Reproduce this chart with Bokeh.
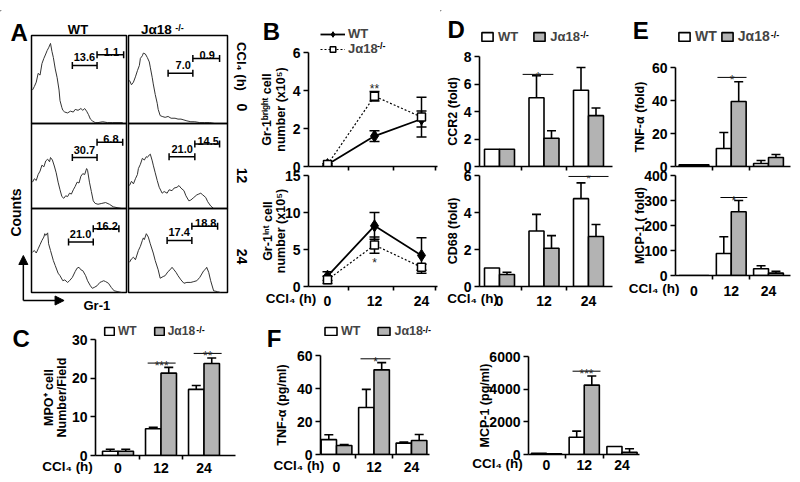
import math
from bokeh.plotting import figure
from bokeh.models import (Range1d, FixedTicker, Whisker, TeeHead, Legend, LegendItem,
                          Arrow, NormalHead, ColumnDataSource)
from bokeh.layouts import column
from bokeh.embed import file_html
from bokeh.resources import INLINE
from bokeh.core.properties import value

FONT = "Liberation Sans"
GREY = "#b3b3b3"

# ------------------------------------------------------------------ data
hours = ["0", "12", "24"]
hour_vals = [0, 12, 24]
groups = [0, 1, 2]

# Panel A : Gr-1 histograms (channel 0-100, % of panel height)
a_wt0_x = [1, 3, 5, 7, 9, 11, 13, 15, 16.5, 18, 20, 21.5, 23, 25, 27, 29, 30, 32, 33, 35, 38, 41, 44, 46, 49, 52, 54, 56, 58, 60, 62, 64, 67, 70, 75, 80, 85, 90, 96]
a_wt0_y = [38, 42, 47, 57, 55, 68, 74, 79, 83, 86, 91, 82, 75, 62, 52, 38, 26, 18, 15, 13, 12, 14, 13, 16, 15, 17, 15, 17, 14, 10, 5, 3, 1, 1, 2, 1, 1, 1, 1]
a_ko0_x = [1, 3, 5, 7, 9, 11, 12, 14, 15, 17, 19, 21, 22, 24, 25, 27, 29, 30, 32, 34, 37, 40, 43, 47, 50, 53, 56, 59, 63, 67, 72, 77, 82, 87, 92]
a_ko0_y = [49, 44, 47, 53, 60, 66, 74, 77, 80, 79, 75, 70, 64, 52, 45, 33, 23, 16, 9, 8, 7, 8, 6, 6, 5, 5, 4, 3, 2, 2, 1, 1, 1, 0, 0]
a_wt12_x = [1, 3, 5, 7, 9, 11, 13, 15, 17, 19, 20, 22, 24, 26, 28, 30, 32, 34, 36, 38, 40, 42, 44, 46, 48, 50, 52, 54, 56, 58, 59, 61, 63, 65, 67, 70, 74, 78, 82, 86, 90, 95]
a_wt12_y = [31, 35, 33, 40, 44, 51, 49, 56, 58, 55, 60, 57, 50, 42, 31, 22, 14, 12, 15, 14, 18, 17, 22, 26, 31, 30, 38, 41, 40, 47, 45, 31, 20, 9, 6, 5, 6, 7, 5, 2, 1, 0]
a_ko12_x = [1, 3, 5, 7, 9, 10, 12, 14, 16, 18, 19, 21, 22, 24, 25, 27, 29, 31, 34, 36, 39, 41, 44, 46, 49, 51, 53, 56, 58, 61, 63, 66, 69, 71, 73, 75, 78, 80, 83, 86]
a_ko12_y = [27, 32, 29, 35, 40, 47, 52, 59, 57, 61, 60, 63, 64, 56, 51, 42, 33, 25, 18, 20, 18, 22, 21, 24, 25, 27, 24, 21, 15, 9, 10, 13, 16, 17, 18, 16, 13, 8, 3, 0]
a_wt24_x = [1, 3, 5, 7, 9, 11, 13, 14, 15, 17, 18, 20, 23, 25, 28, 30, 33, 35, 38, 40, 43, 46, 48, 50, 52, 54, 57, 59, 62, 64, 66, 69, 72, 74, 76, 78, 81, 84, 87, 91, 95]
a_wt24_y = [48, 50, 47, 52, 57, 62, 66, 70, 68, 71, 58, 50, 38, 32, 23, 20, 14, 15, 12, 14, 18, 25, 29, 30, 27, 26, 20, 14, 8, 5, 6, 8, 12, 13, 14, 13, 11, 6, 2, 1, 0]
a_ko24_x = [1, 3, 5, 7, 10, 12, 14, 15, 16, 18, 20, 22, 25, 27, 30, 32, 35, 37, 40, 42, 44, 46, 48, 50, 53, 56, 59, 63, 66, 69, 72, 74, 76, 78, 79, 81, 83, 86, 90, 93]
a_ko24_y = [36, 40, 42, 39, 50, 55, 62, 65, 63, 70, 66, 58, 47, 38, 27, 17, 19, 20, 25, 27, 30, 27, 24, 20, 15, 11, 12, 12, 13, 14, 18, 22, 26, 28, 30, 24, 14, 2, 1, 0]

# gates (order: WT 0h, Ja18 0h, WT 12h, Ja18 12h, WT 24h, Ja18 24h)
gate_l_x0 = [43, 40, 43, 41, 39, 39]
gate_l_x1 = [69, 65, 69, 67, 65, 64]
gate_l_y = [66, 57, 60, 61, 60, 62]
gate_r_x1 = [97, 92, 96, 92, 92, 90]
gate_r_y = [78, 74, 78, 76, 76, 79]
gate_l_pct = ["13.6", "7.0", "30.7", "21.0", "21.0", "17.4"]
gate_r_pct = ["1.1", "0.9", "6.8", "14.5", "16.2", "18.8"]

# Panel B : Gr-1 bright / int cell number (x10^5)
b_bright_wt = [0.1, 1.6, 2.5]
b_bright_wt_err = [0.05, 0.28, 0.42]
b_bright_ko = [0.1, 3.7, 2.6]
b_bright_ko_err = [0.05, 0.25, 1.05]
b_int_wt = [1.4, 8.2, 4.2]
b_int_wt_err = [0.6, 1.8, 2.4]
b_int_ko = [0.9, 5.6, 2.6]
b_int_ko_err = [0.5, 1.1, 0.4]

# Panel C : MPO+ cells / field
c_wt = [1.1, 6.9, 17.1]
c_wt_err = [0.5, 0.4, 1.0]
c_ko = [1.1, 21.3, 23.8]
c_ko_err = [0.5, 1.5, 1.4]
c_sig_x0 = [0.69, 1.76]
c_sig_x1 = [1.34, 2.41]
c_sig_y = [23.9, 26.4]
c_sig_txt = ["***", "**"]

# Panel D : CCR2 / CD68 (fold)
d_ccr2_wt = [1.25, 5.0, 5.55]
d_ccr2_wt_err = [0, 1.6, 1.65]
d_ccr2_ko = [1.25, 2.05, 3.7]
d_ccr2_ko_err = [0, 0.55, 0.55]
d_ccr2_sig = ([0.52], [1.21], [6.7], ["*"])
d_cd68_wt = [1.0, 3.0, 4.75]
d_cd68_wt_err = [0, 0.9, 0.85]
d_cd68_ko = [0.65, 2.07, 2.7]
d_cd68_ko_err = [0.12, 0.68, 0.65]
d_cd68_sig = ([1.55], [2.45], [5.95], ["*"])

# Panel E : TNF-a / MCP-1 (fold)
e_tnf_wt = [1.0, 10.9, 1.8]
e_tnf_wt_err = [0, 9.7, 1.8]
e_tnf_ko = [1.0, 39.4, 5.5]
e_tnf_ko_err = [0, 12.0, 1.8]
e_tnf_sig = ([0.63], [1.41], [54], ["*"])
e_mcp_wt = [0, 88, 27]
e_mcp_wt_err = [0, 67, 12]
e_mcp_ko = [0, 255, 9.5]
e_mcp_ko_err = [0, 45, 7]
e_mcp_sig = ([0.71], [1.43], [312], ["*"])

# Panel F : serum TNF-a / MCP-1 (pg/ml)
f_tnf_wt = [9, 28.5, 6.9]
f_tnf_wt_err = [3, 11, 0.6]
f_tnf_ko = [5.5, 51.3, 8.5]
f_tnf_ko_err = [0.6, 4.4, 3.6]
f_tnf_sig = ([0.64], [1.44], [58], ["*"])
f_mcp_wt = [80, 1060, 490]
f_mcp_wt_err = [0, 370, 0]
f_mcp_ko = [40, 4250, 140]
f_mcp_ko_err = [0, 560, 210]
f_mcp_sig = ([0.69], [1.43], [5100], ["***"])

# ------------------------------------------------------------------ helpers
figs = []


def make_fig(fx0, fy0, fx1, fy1, xr, yr, pad=(80, 45, 8, 30), axes=True):
    l, t, r, b = pad
    fx0, fy0, fx1, fy1 = round(fx0), round(fy0), round(fx1), round(fy1)
    kw = {}
    if not axes:
        kw = dict(x_axis_location=None, y_axis_location=None)
    p = figure(width=fx1 - fx0 + l + r, height=fy1 - fy0 + t + b,
               x_range=Range1d(*xr), y_range=Range1d(*yr),
               min_border_left=l, min_border_top=t, min_border_right=r, min_border_bottom=b,
               output_backend="svg", toolbar_location=None, title=None, **kw)
    p.background_fill_color = None
    p.border_fill_color = None
    p.outline_line_color = None
    p.xgrid.visible = False
    p.ygrid.visible = False
    p.styles = {"position": "absolute", "left": f"{fx0 - l}px", "top": f"{fy0 - t}px"}
    figs.append(p)
    return p


def style(p, yticks, ylabel=None, ylab_standoff=2, xticks=(0, 1, 2), xminor=(0.5, 1.5),
          xlabels=True, xlab_standoff=4):
    xa, ya = p.xaxis[0], p.yaxis[0]
    for ax in (xa, ya):
        ax.axis_line_color = "black"
        ax.axis_line_width = 1.6
        ax.major_tick_line_color = "black"
        ax.major_tick_line_width = 1.6
        ax.minor_tick_line_color = "black"
        ax.minor_tick_line_width = 1.6
        ax.major_tick_in = 0
        ax.minor_tick_in = 0
        ax.major_label_text_font = FONT
        ax.major_label_text_font_style = "bold"
        ax.major_label_text_font_size = "14px"
        ax.major_label_text_color = "black"
        ax.axis_label_text_font = FONT
        ax.axis_label_text_font_style = "bold"
        ax.axis_label_text_font_size = "12.5px"
        ax.axis_label_text_color = "black"
        ax.axis_label_text_line_height = 0.95
    ya.ticker = FixedTicker(ticks=list(yticks))
    ya.major_tick_out = 5
    ya.minor_tick_out = 0
    ya.major_label_standoff = 3
    if ylabel:
        ya.axis_label = ylabel
        ya.axis_label_standoff = ylab_standoff
    xa.ticker = FixedTicker(ticks=list(xticks), minor_ticks=list(xminor))
    xa.major_tick_out = 0
    xa.minor_tick_out = 4
    xa.major_label_standoff = xlab_standoff
    if xlabels:
        xa.major_label_overrides = {t: h for t, h in zip(xticks, hours)}
    else:
        xa.major_label_overrides = {t: "" for t in xticks}


def bars(p, wt, wt_err, ko, ko_err, bw):
    xw = [g - bw / 2 for g in groups]
    xk = [g + bw / 2 for g in groups]
    rw = p.vbar(x=xw, top=wt, width=bw, fill_color="white", line_color="black", line_width=1.6)
    rk = p.vbar(x=xk, top=ko, width=bw, fill_color=GREY, line_color="black", line_width=1.6)
    for xs, v, e in ((xw, wt, wt_err), (xk, ko, ko_err)):
        sel = [i for i in range(3) if e[i] > 0]
        src = ColumnDataSource(dict(x=[xs[i] for i in sel], lo=[v[i] for i in sel],
                                    hi=[v[i] + e[i] for i in sel]))
        p.add_layout(Whisker(source=src, base="x", lower="lo", upper="hi", dimension="height",
                             lower_head=None,
                             upper_head=TeeHead(size=9, line_width=1.6, line_color="black"),
                             line_width=1.6, line_color="black"))
    return rw, rk


def sig(p, x0, x1, y, txt):
    p.segment(x0=x0, y0=y, x1=x1, y1=y, line_color="black", line_width=1)
    p.text(x=[(a + b) / 2 for a, b in zip(x0, x1)], y=y, text=txt, text_align="center",
           text_baseline="alphabetic", y_offset=3, text_font=value(FONT),
           text_font_size="12px", text_color="#222222")


# ------------------------------------------------------------------ panel A
cells = [
    (31, 35, 128, 123, a_wt0_x, a_wt0_y),
    (128, 35, 229, 123, a_ko0_x, a_ko0_y),
    (31, 123, 128, 208, a_wt12_x, a_wt12_y),
    (128, 123, 229, 208, a_ko12_x, a_ko12_y),
    (31, 208, 128, 292, a_wt24_x, a_wt24_y),
    (128, 208, 229, 292, a_ko24_x, a_ko24_y),
]
for i, (x0, y0, x1, y1, hx, hy) in enumerate(cells):
    p = make_fig(x0, y0, x1, y1, (0, 100), (0, 100), pad=(80, 2, 6, 2), axes=False)
    p.outline_line_color = "black"
    p.outline_line_width = 1.5
    p.line(hx, hy, line_color="#333333", line_width=1)
    h = 3.5 / (y1 - y0) * 100
    gx0 = [gate_l_x0[i], gate_l_x1[i]]
    gx1 = [gate_l_x1[i], gate_r_x1[i]]
    gy = [gate_l_y[i], gate_r_y[i]]
    p.segment(x0=gx0, y0=gy, x1=gx1, y1=gy, line_color="black", line_width=1.5)
    tx = gx0 + gx1
    ty = gy + gy
    p.segment(x0=tx, y0=[v - h for v in ty], x1=tx, y1=[v + h for v in ty],
              line_color="black", line_width=1.5)
    p.text(x=[gate_l_x1[i]], y=[gate_l_y[i]], text=[gate_l_pct[i]], text_align="right",
           text_baseline="alphabetic", x_offset=-2, y_offset=-8, text_font=value(FONT),
           text_font_style="bold", text_font_size="11px", text_color="black")
    p.text(x=[(gate_l_x1[i] + gate_r_x1[i]) / 2], y=[gate_r_y[i]], text=[gate_r_pct[i]],
           text_align="center", text_baseline="alphabetic", x_offset=1, y_offset=-3,
           text_font=value(FONT), text_font_style="bold", text_font_size="11px", text_color="black")

# ------------------------------------------------------------------ panel B
bxr = ((308 - 327) * 12 / 47, (437 - 327) * 12 / 47)
b_minor = [5.4, 16.9, 27.5]
pb1 = make_fig(308, 52, 437, 166, bxr, (0, 6), pad=(80, 45, 8, 20))
style(pb1, [0, 2, 4, 6], "Gr-1ᵇʳⁱᵍʰᵗ cell\nnumber (x10⁵)", 2, hour_vals, b_minor, xlabels=False)
pb2 = make_fig(308, 175, 437, 286, bxr, (0, 15), pad=(80, 10, 8, 30))
style(pb2, [0, 5, 10, 15], "Gr-1ⁱⁿᵗ cell\nnumber (x10⁵)", -6, hour_vals, b_minor, xlabels=True, xlab_standoff=5)

for p, wt, wte, ko, koe in ((pb1, b_bright_wt, b_bright_wt_err, b_bright_ko, b_bright_ko_err),
                            (pb2, b_int_wt, b_int_wt_err, b_int_ko, b_int_ko_err)):
    for v, e in ((wt, wte), (ko, koe)):
        src = ColumnDataSource(dict(x=hour_vals, lo=[a - b for a, b in zip(v, e)],
                                    hi=[a + b for a, b in zip(v, e)]))
        p.add_layout(Whisker(source=src, base="x", lower="lo", upper="hi", dimension="height",
                             lower_head=TeeHead(size=10, line_width=1.5, line_color="black"),
                             upper_head=TeeHead(size=10, line_width=1.5, line_color="black"),
                             line_width=1.5, line_color="black"))
    p.line(hour_vals, wt, line_color="black", line_width=1.8)
    p.scatter(hour_vals, wt, marker="diamond", size=12, fill_color="black", line_color="black")
    p.line(hour_vals, ko, line_color="black", line_width=1.2, line_dash="2 2")
    p.scatter(hour_vals, ko, marker="square", size=8, fill_color="white", line_color="black",
              line_width=1.5)

pb1.text(x=[12], y=[4.25], text=["**"], text_align="center", text_baseline="alphabetic", y_offset=3,
         text_font=value(FONT), text_font_size="12px", text_color="#222222")
pb2.text(x=[12], y=[3.6], text=["*"], text_align="center", text_baseline="alphabetic", y_offset=3,
         text_font=value(FONT), text_font_size="12px", text_color="#222222")

# ------------------------------------------------------------------ panel D
dxr = ((479 - 499) / 44.5, (612 - 499) / 44.5)
pd1 = make_fig(479, 56, 612, 166, dxr, (0, 8), pad=(80, 45, 8, 20))
style(pd1, [0, 2, 4, 6, 8], "CCR2 (fold)", 1, xlabels=False)
bars(pd1, d_ccr2_wt, d_ccr2_wt_err, d_ccr2_ko, d_ccr2_ko_err, 0.337)
sig(pd1, *d_ccr2_sig)
pd2 = make_fig(479, 175, 612, 286, dxr, (0, 6), pad=(80, 10, 8, 30))
style(pd2, [0, 2, 4, 6], "CD68 (fold)", 1, xlab_standoff=5)
bars(pd2, d_cd68_wt, d_cd68_wt_err, d_cd68_ko, d_cd68_ko_err, 0.337)
sig(pd2, *d_cd68_sig)

# ------------------------------------------------------------------ panel E
exr = ((675 - 693.5) / 37.25, (790 - 693.5) / 37.25)
pe1 = make_fig(675, 67, 790, 166, exr, (0, 60), pad=(80, 50, 8, 20))
style(pe1, [0, 20, 40, 60], "TNF-α (fold)", 2, xlabels=False)
bars(pe1, e_tnf_wt, e_tnf_wt_err, e_tnf_ko, e_tnf_ko_err, 0.40)
sig(pe1, *e_tnf_sig)
pe2 = make_fig(675, 175, 790, 275, exr, (0, 400), pad=(80, 10, 8, 30))
style(pe2, [0, 100, 200, 300, 400], "MCP-1 ( fold)", -6, xlab_standoff=6)
bars(pe2, e_mcp_wt, e_mcp_wt_err, e_mcp_ko, e_mcp_ko_err, 0.40)
sig(pe2, *e_mcp_sig)

# ------------------------------------------------------------------ panel C
cxr = ((95 - 117.5) / 43, (235 - 117.5) / 43)
pc = make_fig(95, 339, 235, 455, cxr, (0, 30), pad=(80, 20, 8, 25))
style(pc, [0, 10, 20, 30], "MPO⁺ cell\nNumber/Field", 0, xlab_standoff=3)
bars(pc, c_wt, c_wt_err, c_ko, c_ko_err, 0.36)
sig(pc, c_sig_x0, c_sig_x1, c_sig_y, c_sig_txt)

# ------------------------------------------------------------------ panel F
fxr1 = ((320 - 336) / 37.5, (429 - 336) / 37.5)
pf1 = make_fig(320, 355, 429, 454, fxr1, (0, 60), pad=(80, 20, 8, 25))
style(pf1, [0, 20, 40, 60], "TNF-α (pg/ml)", 5, xlab_standoff=3)
bars(pf1, f_tnf_wt, f_tnf_wt_err, f_tnf_ko, f_tnf_ko_err, 0.41)
sig(pf1, *f_tnf_sig)

fxr2 = ((528 - 546) / 37.75, (639 - 546) / 37.75)
pf2 = make_fig(528, 356, 639, 454, fxr2, (0, 6000), pad=(80, 20, 8, 25))
style(pf2, [0, 2000, 4000, 6000], "MCP-1 (pg/ml)", -6, xlab_standoff=1)
bars(pf2, f_mcp_wt, f_mcp_wt_err, f_mcp_ko, f_mcp_ko_err, 0.40)
sig(pf2, *f_mcp_sig)

# ------------------------------------------------------------------ overlays (free text, legends)
OY0, OY1 = 10, 476
SPLIT = 440
ovL = make_fig(0, OY0, SPLIT, OY1, (0, SPLIT), (OY1, OY0), pad=(80, 0, 5, 0), axes=False)
ovR = make_fig(SPLIT, OY0, 795, OY1, (SPLIT, 795), (OY1, OY0), pad=(80, 0, 5, 0), axes=False)


def swatches(ov, xoff):
    # one hidden point each (outside the visible frame): used only for legend glyphs
    d = dict(
        wt_bar=ov.vbar(x=[xoff], top=[1], width=1, fill_color="white", line_color="black", line_width=1.6),
        ko_bar=ov.vbar(x=[xoff], top=[1], width=1, fill_color=GREY, line_color="black", line_width=1.6),
        wt_line=ov.line(x=[xoff, xoff - 1], y=[1, 1], line_color="black", line_width=1.8),
        wt_pt=ov.scatter(x=[xoff], y=[1], marker="diamond", size=12, fill_color="black", line_color="black"),
        ko_line=ov.line(x=[xoff, xoff - 1], y=[1, 1], line_color="black", line_width=1.2, line_dash="2 2"),
        ko_pt=ov.scatter(x=[xoff], y=[1], marker="square", size=8, fill_color="white", line_color="black",
                         line_width=1.5),
    )
    return d


swL = swatches(ovL, -60)
swR = swatches(ovR, SPLIT - 60)


def add_legend(ov, items, page_x, page_bottom, x0, orientation, spacing, gw, gh, fs, standoff=4):
    lg = Legend(items=items, location=(page_x - x0, OY1 - page_bottom), orientation=orientation,
                glyph_width=gw, glyph_height=gh,
                label_standoff=standoff, spacing=spacing, padding=0, margin=0,
                label_text_font=FONT, label_text_font_style="bold", label_text_font_size=fs,
                label_height=gh, label_width=0, border_line_color=None, background_fill_alpha=0)
    ov.add_layout(lg)


def bar_items(sw):
    return [LegendItem(label="WT", renderers=[sw["wt_bar"]]), LegendItem(label="Jα18", renderers=[sw["ko_bar"]])]


add_legend(ovL, [LegendItem(label="WT", renderers=[swL["wt_line"], swL["wt_pt"]]),
                 LegendItem(label="Jα18", renderers=[swL["ko_line"], swL["ko_pt"]])],
           320, 56, 0, "vertical", 0, 25, 14, "13px", 3)
add_legend(ovR, bar_items(swR), 480, 44, SPLIT, "horizontal", 14, 14, 11, "13px")
add_legend(ovR, bar_items(swR), 677, 44, SPLIT, "horizontal", 3, 14, 11, "14px")
add_legend(ovL, bar_items(swL), 103, 338, 0, "horizontal", 16, 12, 10, "12px", 3)
add_legend(ovL, bar_items(swL), 323, 338, 0, "horizontal", 16, 15, 10, "12.5px", 3)


def otext(ov, xs, ys, txt, size, align="left", baseline="alphabetic", angle=0.0):
    ov.text(x=xs, y=ys, text=txt, text_font=value(FONT), text_font_size=size,
            text_font_style="bold", text_align=align, text_baseline=baseline, angle=angle,
            text_color="black")


otext(ovL, [10, 264, 12, 268], [32, 31, 338, 338], ["A", "B", "C", "F"], "24px")
otext(ovR, [447, 634], [29, 30], ["D", "E"], "24px")
# panel A headers / side labels
otext(ovL, [78], [29], ["WT"], "13px", align="center", baseline="middle")
otext(ovL, [157], [29], ["Jα18"], "13.5px", align="center", baseline="middle")
otext(ovL, [243], [66], ["CCl₄ (h)"], "13px", align="center", baseline="middle", angle=-math.pi / 2)
otext(ovL, [243, 243, 243], [107, 175, 256], hours, "14px", align="center", baseline="middle", angle=-math.pi / 2)
otext(ovL, [16], [212], ["Counts"], "14px", align="center", baseline="middle", angle=math.pi / 2)
otext(ovL, [97], [305], ["Gr-1"], "13px", align="center", baseline="middle")
ovL.add_layout(Arrow(x_start=23, y_start=300, x_end=23, y_end=255, line_width=1.5, line_color="black",
                     end=NormalHead(size=9, fill_color="black", line_color="black")))
ovL.add_layout(Arrow(x_start=23, y_start=300, x_end=64, y_end=300, line_width=1.5, line_color="black",
                     end=NormalHead(size=9, fill_color="black", line_color="black")))
# superscripts -/-
otext(ovL, [176, 379, 197, 425], [27, 45, 329, 329], ["-/-"] * 4, "9px")
otext(ovR, [581, 773], [34, 34], ["-/-"] * 2, "9px")
# CCl4 (h) axis captions
otext(ovL, [318, 93, 326], [298, 466, 465], ["CCl₄ (h)"] * 3, "13.5px", align="right", baseline="middle")
otext(ovR, [498, 681, 523], [298, 288, 463], ["CCl₄ (h)"] * 3, "13.5px", align="right", baseline="middle")

root = column(*figs, width=784, height=466)

open("out.html", "w").write(file_html(root, INLINE))
